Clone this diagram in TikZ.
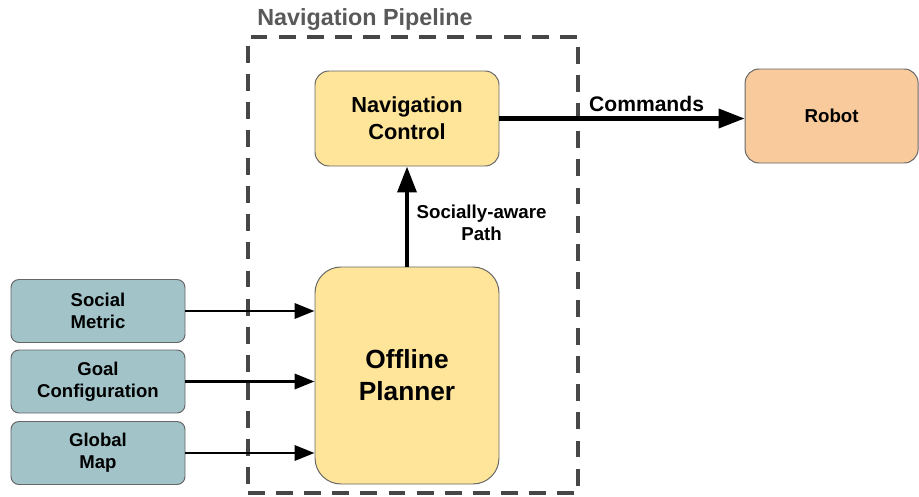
\documentclass[tikz,border=0pt]{standalone}
\usepackage{fontspec}
\setmainfont{Liberation Sans}
\usepackage{tikz}
\usepackage{xcolor}
\usetikzlibrary{arrows.meta}
\definecolor{planyellow}{RGB}{255,229,153}
\definecolor{robotorange}{RGB}{249,203,156}
\definecolor{inputteal}{RGB}{162,196,201}

\begin{document}
\begin{tikzpicture}[
    box/.style={draw=black!60, line width=0.7pt, align=center},
    ctrlbox/.style={box, fill=planyellow, rounded corners=0.35cm, minimum width=4.6cm, minimum height=2.375cm, font=\fontsize{15.5}{19}\selectfont\bfseries},
    planbox/.style={box, fill=planyellow, rounded corners=0.65cm, minimum width=4.6cm, minimum height=5.425cm, font=\fontsize{18.7}{22.8}\selectfont\bfseries},
    robotbox/.style={box, fill=robotorange, rounded corners=0.35cm, minimum width=4.325cm, minimum height=2.35cm, font=\fontsize{13.3}{16}\selectfont\bfseries},
    inbox/.style={box, fill=inputteal, rounded corners=0.2cm, minimum width=4.35cm, minimum height=1.575cm, font=\fontsize{13.2}{15.6}\selectfont\bfseries},
    bigarrow/.style={-{Triangle[length=0.65cm, width=0.47cm]}, line width=3pt},
    smallarrow/.style={-{Triangle[length=0.5cm, width=0.38cm]}, line width=2.1pt}
  ]
  \useasboundingbox (0,0) rectangle (22.975,12.4);

  % Pipeline frame
  \node[draw=black!72, line width=3pt, dash pattern=on 12pt off 8pt, minimum width=8.25cm, minimum height=11.4cm] (pipeline) at (10.325,5.775) {};
  \node[anchor=base west, inner sep=0, text=black!65, font=\fontsize{16.6}{20}\selectfont\bfseries] (title) at (6.425,11.75) {Navigation Pipeline};

  % Pipeline blocks
  \node[ctrlbox] (control) at (10.175,9.4375) {Navigation\\Control};
  \node[planbox] (planner) at (10.175,3.0125) {Offline\\Planner};

  % Robot
  \node[robotbox] (robot) at (20.79,9.5) {Robot};

  % Inputs
  \node[inbox] (metric) at (2.45,4.625) {Social\\Metric};
  \node[inbox] (goal) at (2.45,2.8625) {Goal\\Configuration};
  \node[inbox] (map) at (2.45,1.075) {Global\\Map};

  % Arrows
  \draw[bigarrow] (planner) -- node[right, pos=0.44, xshift=2pt, align=center, font=\fontsize{13.3}{15.6}\selectfont\bfseries] {Socially-aware\\Path} (control);
  \draw[bigarrow] (control.east) -- node[above, pos=0.6, font=\fontsize{15}{18}\selectfont\bfseries] {Commands} (control.east -| robot.west);

  \draw[smallarrow] (metric) -- (metric -| planner.west);
  \draw[smallarrow] (goal) -- (goal -| planner.west);
  \draw[smallarrow] (map) -- (map -| planner.west);
\end{tikzpicture}
\end{document}
